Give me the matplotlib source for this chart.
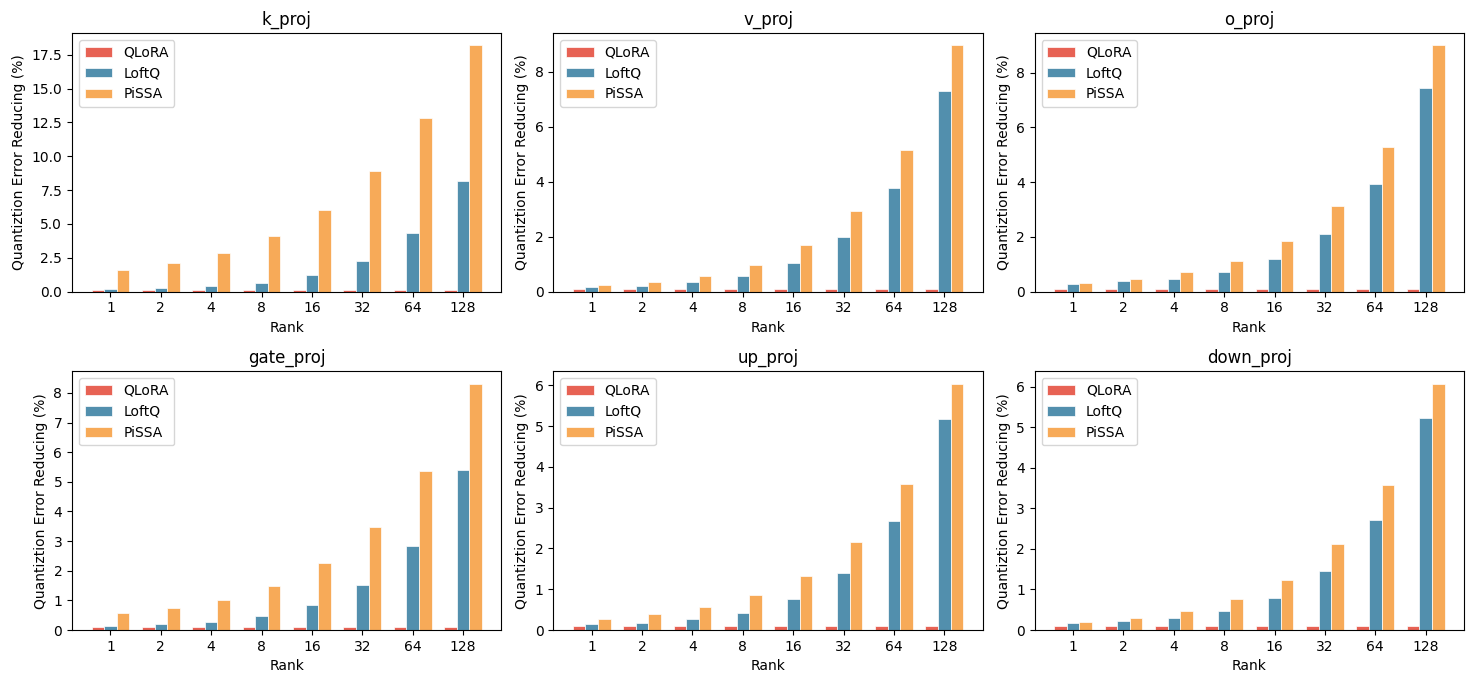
import matplotlib
matplotlib.use("Agg")
import matplotlib.pyplot as plt
import numpy as np

ranks = ["1", "2", "4", "8", "16", "32", "64", "128"]
methods = ["QLoRA", "LoftQ", "PiSSA"]
titles = ["k_proj", "v_proj", "o_proj", "gate_proj", "up_proj", "down_proj"]

qlora_k = [0.1] * 8
loftq_k = [0.17, 0.25, 0.40, 0.67, 1.20, 2.27, 4.31, 8.20]
pissa_k = [1.60, 2.10, 2.88, 4.09, 6.01, 8.87, 12.82, 18.19]

qlora_v = [0.1] * 8
loftq_v = [0.16, 0.22, 0.34, 0.58, 1.03, 1.97, 3.79, 7.32]
pissa_v = [0.23, 0.34, 0.56, 0.96, 1.68, 2.93, 5.14, 8.97]

qlora_o = [0.1] * 8
loftq_o = [0.26, 0.40, 0.45, 0.70, 1.18, 2.11, 3.93, 7.43]
pissa_o = [0.30, 0.45, 0.70, 1.10, 1.85, 3.11, 5.28, 9.00]

qlora_gate = [0.1] * 8
loftq_gate = [0.15, 0.20, 0.28, 0.48, 0.83, 1.51, 2.82, 5.39]
pissa_gate = [0.56, 0.74, 1.02, 1.50, 2.26, 3.48, 5.37, 8.31]

qlora_up = [0.1] * 8
loftq_up = [0.14, 0.18, 0.27, 0.43, 0.76, 1.40, 2.68, 5.17]
pissa_up = [0.28, 0.40, 0.56, 0.85, 1.33, 2.16, 3.57, 6.04]

qlora_down = [0.1] * 8
loftq_down = [0.17, 0.22, 0.30, 0.47, 0.80, 1.45, 2.72, 5.22]
pissa_down = [0.20, 0.30, 0.46, 0.76, 1.24, 2.12, 3.58, 6.07]

data = [
    (qlora_k, loftq_k, pissa_k),
    (qlora_v, loftq_v, pissa_v),
    (qlora_o, loftq_o, pissa_o),
    (qlora_gate, loftq_gate, pissa_gate),
    (qlora_up, loftq_up, pissa_up),
    (qlora_down, loftq_down, pissa_down),
]
colors = ["#E76254", "#528FAD", "#F7AA58"]

fig, axes = plt.subplots(2, 3, figsize=(14.76, 6.82), dpi=100)
fig.subplots_adjust(left=0.0488, right=0.9919, top=0.9516, bottom=0.0762,
                    wspace=0.121, hspace=0.309)

x = np.arange(len(ranks))
w = 0.25
for ax, title, series in zip(axes.flat, titles, data):
    for i, (name, vals, c) in enumerate(zip(methods, series, colors)):
        ax.bar(x + (i - 1) * w, vals, width=w, color=c, edgecolor="white",
               linewidth=0.5, label=name)
    ax.set_xticks(x)
    ax.set_xticklabels(ranks, fontsize=10)
    ax.tick_params(axis="y", labelsize=10)
    ax.set_title(title, fontsize=12)
    ax.set_xlabel("Rank", fontsize=10)
    ax.set_ylabel("Quantiztion Error Reducing (%)", fontsize=10)
    ax.legend(loc="upper left", fontsize=10)

fig.savefig("out.png", dpi=100)
